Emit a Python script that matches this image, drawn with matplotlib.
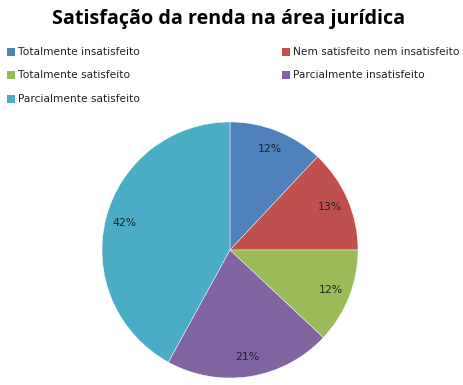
import matplotlib
matplotlib.use("Agg")
import matplotlib.pyplot as plt
from matplotlib.patches import Rectangle

title = "Satisfação da renda na área jurídica"
categories = ["Totalmente insatisfeito", "Nem satisfeito nem insatisfeito",
              "Totalmente satisfeito", "Parcialmente insatisfeito",
              "Parcialmente satisfeito"]
values = [12, 13, 12, 21, 42]
colors = ["#4F81BD", "#C0504D", "#9BBB59", "#8064A2", "#4BACC6"]

W, H = 463, 385
fig = plt.figure(figsize=(W / 100, H / 100), dpi=100)
fig.patch.set_facecolor("white")

cx, cy, r = 230, 250, 128
ax = fig.add_axes([(cx - r) / W, (H - cy - r) / H, 2 * r / W, 2 * r / H])
wedges, texts = ax.pie(values, colors=colors, startangle=90, counterclock=False,
                       labels=[f"{v}%" for v in values], labeldistance=0.85,
                       wedgeprops=dict(linewidth=0.3, edgecolor="white"),
                       textprops=dict(fontsize=7.8, color="#222222", family="DejaVu Sans"))
for t in texts:
    t.set_ha("center")
    t.set_va("center")
ax.set_xlim(-1, 1)
ax.set_ylim(-1, 1)
ax.set_aspect("equal")
ax.axis("off")

fig.text(229 / W, 1 - 19 / H, title, ha="center", va="center",
         fontsize=14.2, fontweight="bold", family="Open Sans")

# legend (manual layout)
order = [0, 2, 4, 1, 3]
pos = [(7, 52), (7, 75), (7, 99), (282, 52), (282, 75)]
for idx, (x, y) in zip(order, pos):
    fig.patches.append(Rectangle((x / W, 1 - (y + 4) / H), 8 / W, 8 / H,
                                 transform=fig.transFigure, facecolor=colors[idx],
                                 edgecolor="none"))
    fig.text((x + 11) / W, 1 - y / H, categories[idx], ha="left", va="center",
             fontsize=7.7, family="DejaVu Sans", color="#222222")

fig.savefig("out.png", dpi=100)
